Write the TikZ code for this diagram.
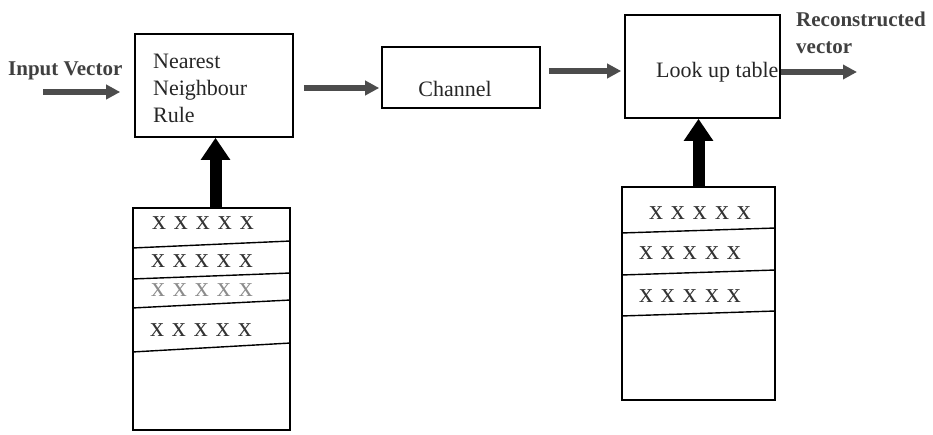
\documentclass[tikz,border=0pt]{standalone}
\usepackage{fontspec}
\setmainfont{Liberation Serif}
\usetikzlibrary{arrows.meta}
% one row of codebook entries
\newcommand\xfive{x\hspace{8pt}x\hspace{8pt}x\hspace{8pt}x\hspace{8pt}x}
\begin{document}
\begin{tikzpicture}[x=1pt,y=-1pt,
  box/.style={draw=black, line width=1.6pt, rectangle, inner sep=0pt},
  flow/.style={draw=black!70, line width=6pt, -{Triangle[length=14pt,width=14pt]}},
  feed/.style={draw=black, line width=12pt, -{Triangle[length=22pt,width=28pt]}},
  lbl/.style={font=\fontsize{22}{27}\selectfont, text=black!85, inner sep=0pt},
  boldlbl/.style={font=\fontsize{21}{27}\selectfont\bfseries, text=black!75, inner sep=0pt},
  xrow/.style={font=\fontsize{28}{28}\selectfont, text=black!80, inner sep=0pt},
  rowline/.style={draw=black, line width=1.4pt}
]
\useasboundingbox (0,0) rectangle (933,435);

% main processing blocks
\node[box, minimum width=158pt, minimum height=103pt] (nn) at (214,85.5) {};
\node[lbl, align=left, anchor=north west] (nntext) at (153,54) {Nearest\\Neighbour\\Rule};

\node[box, minimum width=158pt, minimum height=61pt] (chan) at (461,77.5) {};
\node[lbl] (chantext) at (455,89) {Channel};

\node[box, minimum width=155pt, minimum height=103pt] (lut) at (702.5,66.5) {};
\node[lbl, anchor=base west] (luttext) at (656,78) {Look up table};

% codebooks
\node[box, minimum width=157pt, minimum height=222pt] (cbL) at (211.5,319) {};
\draw[rowline] (cbL.west |- 0,248) -- (cbL.east |- 0,241);
\draw[rowline] (cbL.west |- 0,279) -- (cbL.east |- 0,273);
\draw[rowline] (cbL.west |- 0,308) -- (cbL.east |- 0,300);
\draw[rowline] (cbL.west |- 0,352) -- (cbL.east |- 0,343);
\node[xrow] (l1) at (203,223) {\xfive};
\node[xrow] (l2) at (202,261) {\xfive};
\node[xrow, text=black!45] (l3) at (202,290) {\xfive};
\node[xrow] (l4) at (201,330) {\xfive};

\node[box, minimum width=153pt, minimum height=213pt] (cbR) at (698.5,293.5) {};
\draw[rowline] (cbR.west |- 0,233) -- (cbR.east |- 0,228);
\draw[rowline] (cbR.west |- 0,275) -- (cbR.east |- 0,270);
\draw[rowline] (cbR.west |- 0,316) -- (cbR.east |- 0,311);
\node[xrow] (r1) at (700,213) {\xfive};
\node[xrow] (r2) at (690,253) {\xfive};
\node[xrow] (r3) at (690,296) {\xfive};

% signal path
\coordinate (invec) at (43,92);
\coordinate (outvec) at (857,72);
\node[boldlbl, anchor=base west] (intext) at (8,76) {Input Vector};
\node[boldlbl, anchor=north west, align=left] (outtext) at (796,12) {Reconstructed\\vector};

\draw[flow, shorten >=14pt] (invec) -- (nn.west |- invec);
\draw[flow, shorten <=10pt, shorten >=2pt] (nn.east |- 0,88) -- (chan.west |- 0,88);
\draw[flow, shorten <=8pt, shorten >=3pt] (chan.east |- 0,71) -- (lut.west |- 0,71);
\draw[flow] (lut.east |- outvec) -- (outvec);

% codebook feeds
\draw[feed] ([xshift=4pt]cbL.north) -- ([xshift=4pt]cbL.north |- nn.south);
\draw[feed] (cbR.north) -- (cbR.north |- lut.south);
\end{tikzpicture}
\end{document}
